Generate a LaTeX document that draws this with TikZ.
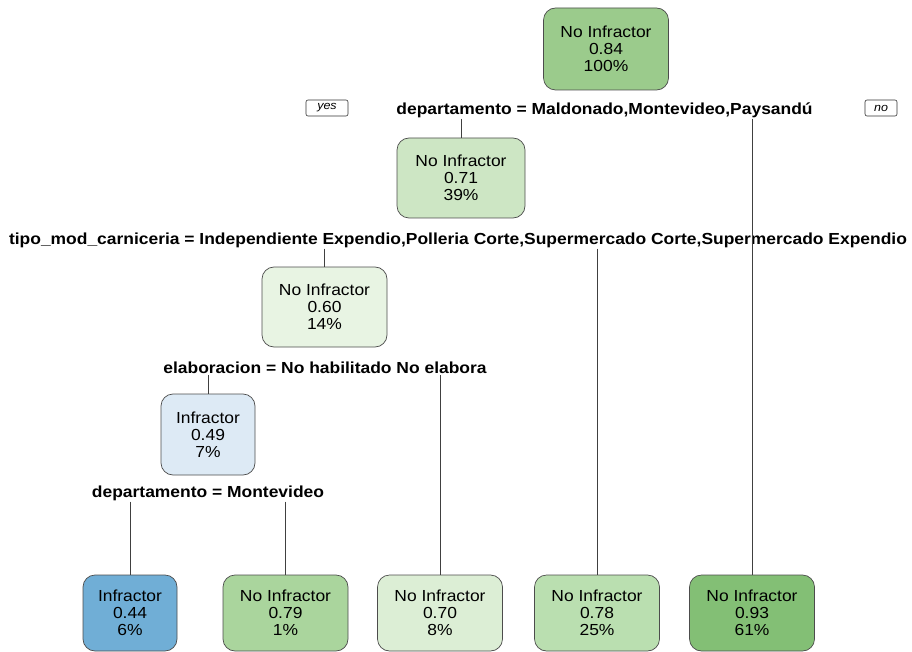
\documentclass[tikz,border=0pt]{standalone}
\usepackage{fontspec}
\setmainfont{Liberation Sans}[FakeStretch=1.09]
\usepackage{tikz}
\usetikzlibrary{positioning,calc}
\definecolor{g84}{HTML}{9BCB8C}
\definecolor{g71}{HTML}{CDE6C4}
\definecolor{g60}{HTML}{E8F4E3}
\definecolor{b49}{HTML}{DDEAF5}
\definecolor{b44}{HTML}{70AED6}
\definecolor{g79}{HTML}{AAD59D}
\definecolor{g70}{HTML}{DCEED5}
\definecolor{g78}{HTML}{BADFB0}
\definecolor{g93}{HTML}{83BF75}
\tikzset{
  tnode/.style={draw=black!70, line width=0.7pt, rounded corners=12pt, align=center, inner sep=0pt, font=\fontsize{16}{17}\selectfont, minimum height=80pt, minimum width=125pt},
  small/.style={tnode, minimum width=94pt},
  leaf/.style={tnode, minimum height=76pt},
  split/.style={font=\fontsize{16}{17}\selectfont\bfseries, inner sep=1pt},
  tag/.style={draw=black!80, line width=0.6pt, rounded corners=2pt, font=\fontsize{11.5}{12}\selectfont\itshape, minimum width=42pt, minimum height=16pt, inner sep=0pt},
  edge/.style={black!75, line width=0.7pt}}

\begin{document}
\begin{tikzpicture}[x=1pt, y=-1pt]
\useasboundingbox (0,0) rectangle (912,652);
% tree nodes
\node[tnode, fill=g84, minimum height=82pt] (root) at (606,49) {No Infractor\\0.84\\100\%};
\node[split] (s1) at (604.5,110) {departamento = Maldonado,Montevideo,Paysandú};
\node[tag] (yes) at (327,108) {yes};
\node[tag, minimum width=32pt] (no) at (881,108) {no};
\node[tnode, fill=g71, minimum width=128pt] (n2) at (461,178) {No Infractor\\0.71\\39\%};
\node[split] (s2) at (458,240) {tipo\_mod\_carniceria = Independiente Expendio,Polleria Corte,Supermercado Corte,Supermercado Expendio};
\node[tnode, fill=g60] (n3) at (324.5,307) {No Infractor\\0.60\\14\%};
\node[split] (s3) at (325,368) {elaboracion = No habilitado No elabora};
\node[small, fill=b49, minimum height=81pt] (n4) at (208,434.5) {Infractor\\0.49\\7\%};
\node[split] (s4) at (208,493) {departamento = Montevideo};
% leaves
\node[leaf, small, minimum height=76pt, fill=b44] (l1) at (130,613) {Infractor\\0.44\\6\%};
\node[leaf, fill=g79] (l2) at (285.5,613) {No Infractor\\0.79\\1\%};
\node[leaf, fill=g70] (l3) at (440,613) {No Infractor\\0.70\\8\%};
\node[leaf, fill=g78] (l4) at (597,613) {No Infractor\\0.78\\25\%};
\node[leaf, fill=g93] (l5) at (752,613) {No Infractor\\0.93\\61\%};
% branches
\draw[edge] (n2.north |- s1.south) -- (n2.north);
\draw[edge] (l5.north |- s1.south) -- (l5.north);
\draw[edge] (n3.north |- s2.south) -- (n3.north);
\draw[edge] (l4.north |- s2.south) -- (l4.north);
\draw[edge] (n4.north |- s3.south) -- (n4.north);
\draw[edge] (l3.north |- s3.south) -- (l3.north);
\draw[edge] (l1.north |- s4.south) -- (l1.north);
\draw[edge] (l2.north |- s4.south) -- (l2.north);
\end{tikzpicture}
\end{document}
